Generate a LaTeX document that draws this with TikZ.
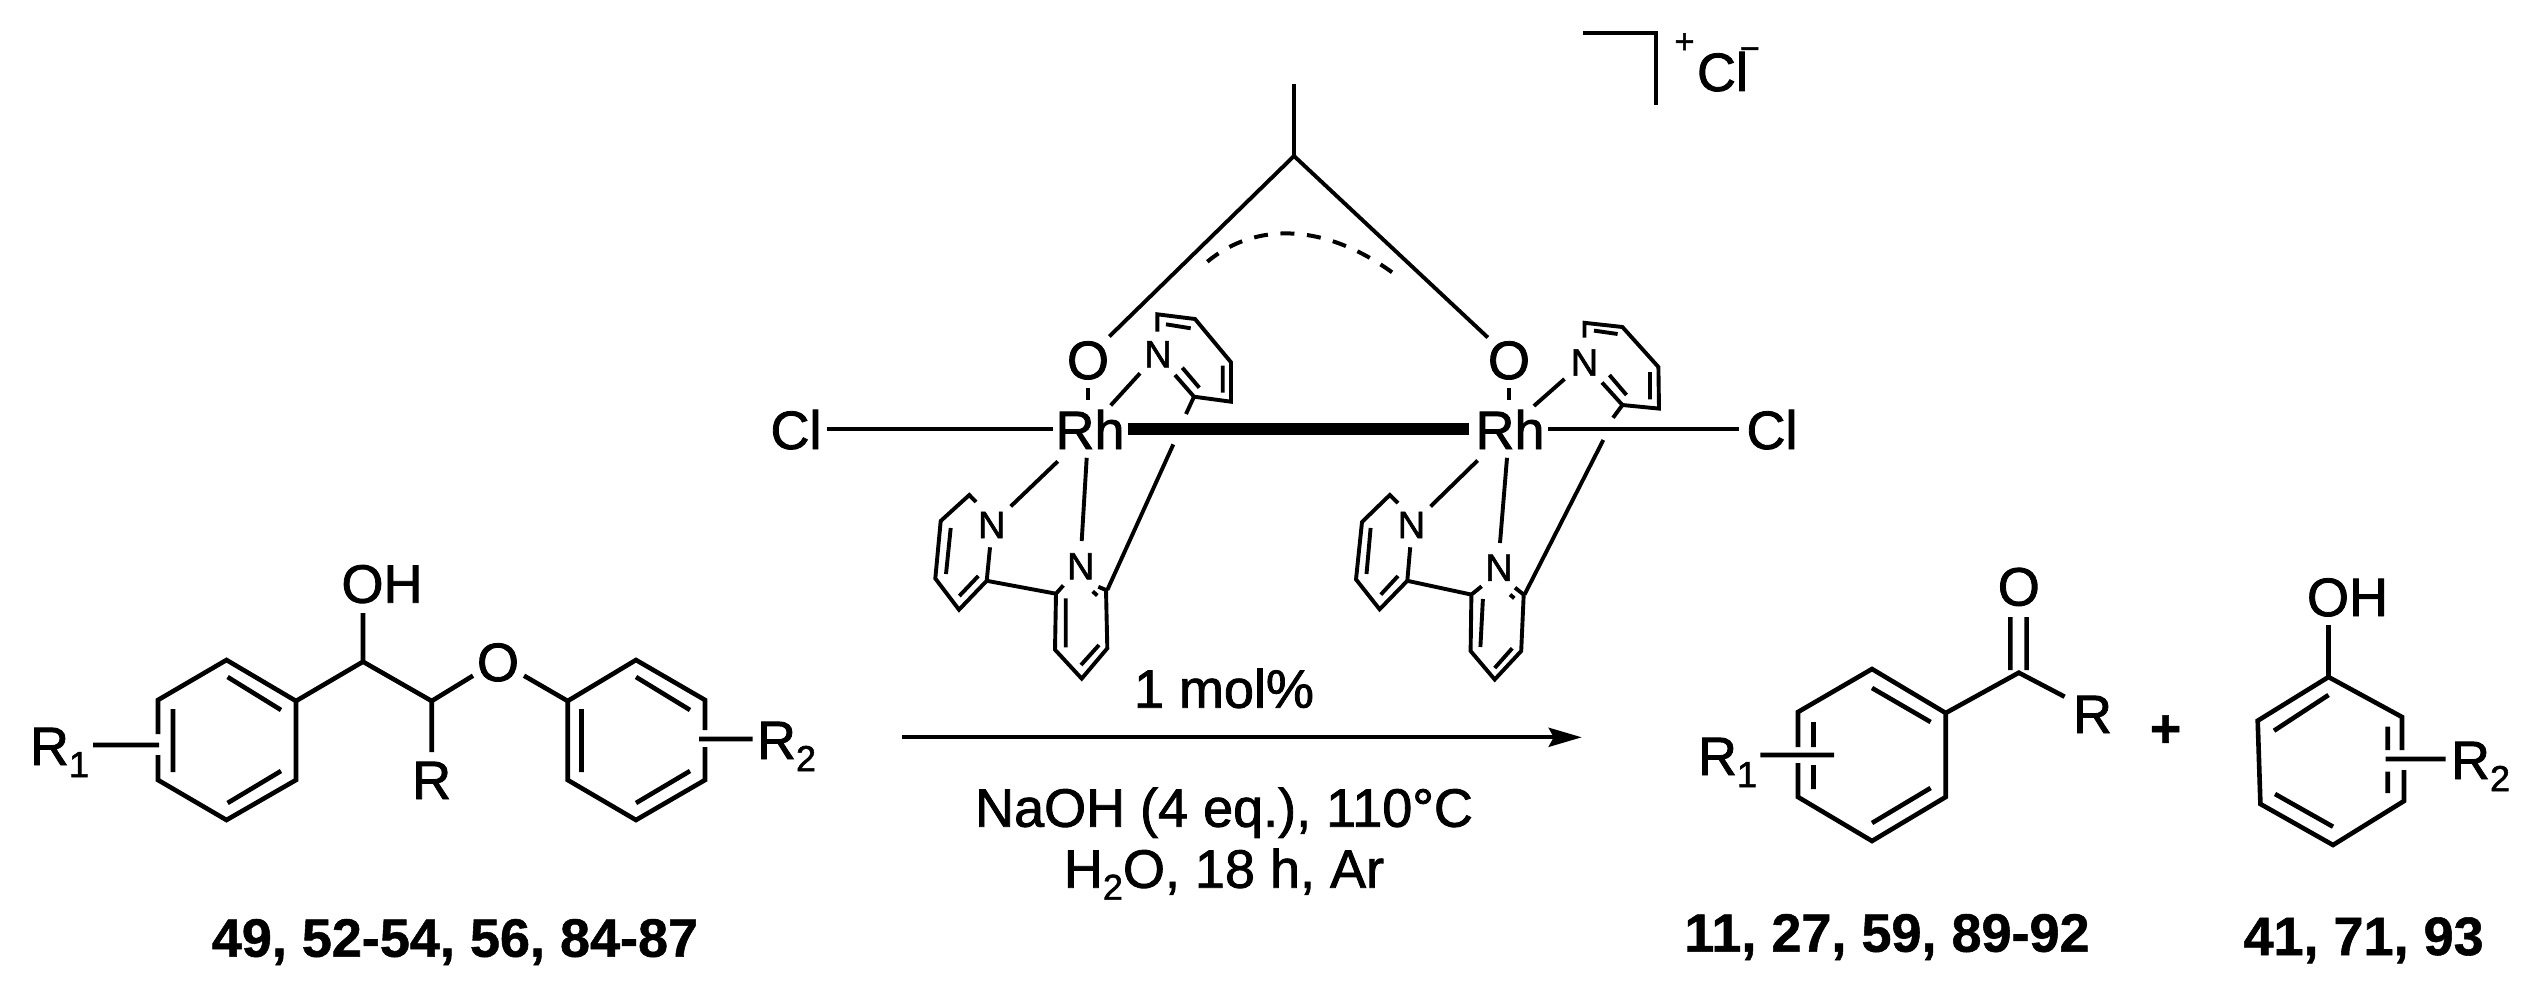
\documentclass[tikz,border=0pt]{standalone}
\usepackage{fontspec}
\setmainfont[FakeBold=1.5,BoldFeatures={FakeBold=1}]{Liberation Sans}
\usetikzlibrary{arrows.meta}
\newcommand\subs[1]{\raisebox{-12pt}{\fontsize{36}{40}\selectfont #1}}
\tikzset{
  bond/.style={line width=4.6pt,line join=miter,line cap=butt},
  catbond/.style={line width=3.9pt,line join=miter,line cap=butt},
  metalbond/.style={line width=11.5pt,line cap=butt},
  dashedarc/.style={line width=4pt,dash pattern=on 14pt off 12.6pt},
  rxnarrow/.style={line width=4pt,-{Stealth[length=33pt,width=19pt,inset=5pt]}},
  txt/.style={inner sep=0pt,outer sep=0pt,anchor=base,font=\fontsize{54}{60}\selectfont},
  txtw/.style={txt,anchor=base west},
  atom/.style={inner sep=0pt,outer sep=0pt,anchor=base,font=\fontsize{38}{42}\selectfont},
  lab/.style={inner sep=0pt,outer sep=0pt,anchor=base,font=\bfseries\fontsize{54}{60}\selectfont},
  sup/.style={inner sep=0pt,outer sep=0pt,anchor=base,font=\fontsize{34}{38}\selectfont},
}
\begin{document}
\begin{tikzpicture}[x=1pt,y=-1pt]
\useasboundingbox (0,0) rectangle (2535,982);
% ---- coordinates: substrate
\foreach \n/\x/\y in {La/226.5/660,Lb/296/701,Lc/296/780,Ld/226.5/820,Le/158/780,Lf/158/700,Lg/158/734,Lh/158/755,
 Li/227.6/677,Lj/281/710,Lk/173/709,Ll/173/772,Lm/227.6/803,Ln/281/771,Lo/93/745,Lp/159/745,
 Lq/363/661.7,Lr/363/613,Ls/431.7/701,Lt/431.7/752,Lu/473/675.7,Lv/524/675.7,Lw/567.7/701,
 Mb/636/660,Mc/705/700,Md/705/730,Me/705/747,Mf/705/780,Mg/636/820,Mh/567.7/780,
 Mi/581.5/709,Mj/581.5/772,Mk/636/677,Ml/690/710,Mm/636/803,Mn/690/771,Mo/699/739,Mp/752.6/739,
% ketone
 Ka/1872/669,Kb/1945.7/713,Kc/1945.7/797,Kd/1872/841,Ke/1798/797,Kf/1798/712,Kg/1798/747,Kh/1798/763,
 Ki/1872/688,Kj/1930.6/722,Kk/1872/823,Kl/1930.6/788,Km/1813.5/722,Kn/1813.5/747,Ko/1813.5/765,Kp/1813.5/789,
 Kq/1760.4/755,Kr/1834/755,Ks/2018.8/672.7,Kt/2010.4/617,Ku/2010.4/670,Kv/2026.6/617,Kw/2026.6/670,Kx/2064.6/696.7,
% phenol
 Pa/2328.5/677,Pb/2402/717,Pc/2402/750,Pd/2404/770,Pe/2404/801,Pf/2333/845,Pg/2260.4/804,Ph/2257.7/720.7,
 Pi/2328.5/695,Pj/2274/730.7,Pk/2275/794,Pl/2333/826.7,Pm/2387.7/726.7,Pn/2387.7/750,Po/2387.7/771.7,Pp/2387.7/793,
 Pq/2385.5/759,Pr/2445.7/759,Ps/2328.5/625,
% arrow
 Ws/902/737.3,We/1581.7/737.3,
% bracket
 Ba/1582.9/33,Bb/1656/33,Bc/1656/104.7,
% acetate
 Ca/1294/84,Cb/1294/156,Cc/1487.8/337.5,Cd/1109.3/336.5,Ce/1207.3/261.7,Cf/1395.7/275,
% Rh-ligands common
 Ra/826.7/429,Rb/1052.7/429,Rc/1127.7/429,Rd/1469.4/429,Re/1548/429,Rf/1738.8/429,
 Og/1088/388,Oh/1088/400,Oi/1509/388,Oj/1509/400,
% left catalyst: upper pyridine
 Aa/1157.3/331.7,Ab/1157.3/314.3,Ac/1195/319,Ad/1231/362.3,Ae/1231/401.7,Af/1194/396.7,Ag/1175/375,
 Ah/1166/324.3,Ai/1190.7/328.3,Aj/1222.7/365.7,Ak/1222.7/392.7,Al/1182.3/367.7,Am/1199.3/387.7,An/1186/414,
 Ao/1110.7/405.4,Ap/1140/373.3,Aq/1173.3/444.4,Ar/1107.3/590,
% left catalyst: lower bipyridine
 As/1057.7/461.4,At/1010.7/506.4,Au/976/502,Av/969.3/495,Aw/940.7/521,Ax/935.3/578.5,Ay/959/609.7,Az/986.7/580.8,AA/990/547.3,
 AB/950.7/528,AC/946/574,AD/959.3/596,AE/978.3/576,AF/1056/593.7,AG/1063.3/585.4,AH/1055/649.7,AI/1081.7/678.6,AJ/1107.3/648.3,AK/1106/590,AL/1098.3/586.8,
 AM/1065.7/598.3,AN/1065.7/647.4,AO/1081/665,AP/1099/645,AQ/1092.7/591.4,AR/1097.3/595.5,AS/1086.7/457.8,AT/1081.7/541,
% right catalyst: upper pyridine
 Da/1584.5/337.5,Db/1584.5/322.8,Dc/1622.4/327,Dd/1658.4/367,De/1659/408.6,Df/1622.4/405,Dg/1602/382.5,
 Dh/1594/330.6,Di/1617.6/334,Dj/1650/372,Dk/1650/399.4,Dl/1609.4/375,Dm/1626.5/395,Dn/1613/417.8,
 Do/1533.9/406,Dp/1564.5/379,Dq/1603.3/440,Dr/1524.5/594.6,
% right catalyst: lower bipyridine
 Ds/1477.6/460.5,Dt/1430.6/506.4,Du/1398/503,Dv/1389.8/495,Dw/1362/522,Dx/1356/579.4,Dy/1379.6/609.3,Dz/1407.3/580.8,DA/1410.2/547.3,
 DB/1370.6/528,DC/1366.5/574,DD/1380.8/594.6,DE/1398/576,DF/1471.4/594.6,DG/1481.6/586.3,DH/1470.6/651,DI/1494.7/679.5,DJ/1521.2/651,DK/1523.7/594.6,DL/1515/587.7,
 DM/1482.9/599,DN/1480.4/647,DO/1494.7/668,DP/1512.2/648.3,DQ/1510/594.6,DR/1514.3/598.3,DS/1507/457.8,DT/1500/543}
 \coordinate (\n) at (\x,\y);
% ---- substrate
\draw[bond] (Lg)--(Lf)--(La)--(Lb)--(Lc)--(Ld)--(Le)--(Lh);
\draw[bond] (Li)--(Lj) (Lk)--(Ll) (Lm)--(Ln) (Lo)--(Lp);
\draw[bond] (Lb)--(Lq)--(Ls)--(Lu) (Lq)--(Lr) (Ls)--(Lt) (Lv)--(Lw);
\draw[bond] (Md)--(Mc)--(Mb)--(Lw)--(Mh)--(Mg)--(Mf)--(Me);
\draw[bond] (Mi)--(Mj) (Mk)--(Ml) (Mm)--(Mn) (Mo)--(Mp);
\node[txt] (oh1) at (382,602.7) {OH};
\node[txt] (ether) at (498,681) {O};
\node[txt] (rmid) at (431.7,799) {R};
\node[txtw] (r1a) at (30,765) {R\subs{1}};
\node[txtw] (r2a) at (757,759) {R\subs{2}};
\node[lab] (cmpa) at (455,956.7) {49, 52-54, 56, 84-87};
% ---- arrow and conditions
\draw[rxnarrow] (Ws)--(We);
\node[txt] (mol) at (1224,707.7) {1 mol\%};
\node[txt] (naoh) at (1224,826.7) {NaOH (4 eq.), 110°C};
\node[txt] (water) at (1224,887.7) {H\subs{2}O, 18 h, Ar};
% ---- ketone
\draw[bond] (Kg)--(Kf)--(Ka)--(Kb)--(Kc)--(Kd)--(Ke)--(Kh);
\draw[bond] (Ki)--(Kj) (Kk)--(Kl) (Km)--(Kn) (Ko)--(Kp) (Kq)--(Kr);
\draw[bond] (Kb)--(Ks)--(Kx) (Kt)--(Ku) (Kv)--(Kw);
\node[txt] (keto) at (2018.8,605.5) {O};
\node[txt] (rket) at (2092.5,733) {R};
\node[txtw] (r1b) at (1698,775) {R\subs{1}};
\node[lab] (cmpb) at (1887,951.7) {11, 27, 59, 89-92};
\node[lab] (plus) at (2165.6,747) {+};
% ---- phenol
\draw[bond] (Pc)--(Pb)--(Pa)--(Ph)--(Pg)--(Pf)--(Pe)--(Pd);
\draw[bond] (Pi)--(Pj) (Pk)--(Pl) (Pm)--(Pn) (Po)--(Pp) (Pq)--(Pr) (Pa)--(Ps);
\node[txt] (oh2) at (2347.5,616) {OH};
\node[txtw] (r2b) at (2451,779) {R\subs{2}};
\node[lab] (cmpc) at (2363.6,955) {41, 71, 93};
% ---- catalyst frame
\draw[catbond] (Ca)--(Cb)--(Cc) (Cb)--(Cd);
\draw[dashedarc] (Ce) .. controls (1255,222) and (1325,222) .. (Cf);
\draw[catbond] (Ba)--(Bb)--(Bc);
\node[sup] (charge) at (1684.5,53) {+};
\node[txtw] (clion) at (1697,91) {Cl\kern-8pt\raisebox{31pt}{\fontsize{34}{38}\selectfont −}};
\draw[catbond] (Ra)--(Rb) (Re)--(Rf);
\draw[metalbond] (Rc)--(Rd);
\draw[catbond] (Og)--(Oh) (Oi)--(Oj);
\node[txt] (cla) at (796,449) {Cl};
\node[txt] (rha) at (1090,449) {Rh};
\node[txt] (rhb) at (1510,449) {Rh};
\node[txt] (clb) at (1772,449) {Cl};
\node[txt] (oa) at (1088,379) {O};
\node[txt] (ob) at (1509,379) {O};
% ---- left catalyst ligands
\draw[catbond] (Aa)--(Ab)--(Ac)--(Ad)--(Ae)--(Af)--(Ag);
\draw[catbond] (Ah)--(Ai) (Aj)--(Ak) (Al)--(Am) (Af)--(An) (Ao)--(Ap) (Aq)--(Ar);
\draw[catbond] (As)--(At) (Au)--(Av)--(Aw)--(Ax)--(Ay)--(Az)--(AA);
\draw[catbond] (AB)--(AC) (AD)--(AE) (Az)--(AF);
\draw[catbond] (AG)--(AF)--(AH)--(AI)--(AJ)--(AK)--(AL);
\draw[catbond] (AM)--(AN) (AO)--(AP) (AQ)--(AR) (AS)--(AT);
\node[atom] (na1) at (1158,367.3) {N};
\node[atom] (na2) at (991.7,538) {N};
\node[atom] (na3) at (1080.7,579.4) {N};
% ---- right catalyst ligands
\draw[catbond] (Da)--(Db)--(Dc)--(Dd)--(De)--(Df)--(Dg);
\draw[catbond] (Dh)--(Di) (Dj)--(Dk) (Dl)--(Dm) (Df)--(Dn) (Do)--(Dp) (Dq)--(Dr);
\draw[catbond] (Ds)--(Dt) (Du)--(Dv)--(Dw)--(Dx)--(Dy)--(Dz)--(DA);
\draw[catbond] (DB)--(DC) (DD)--(DE) (Dz)--(DF);
\draw[catbond] (DG)--(DF)--(DH)--(DI)--(DJ)--(DK)--(DL);
\draw[catbond] (DM)--(DN) (DO)--(DP) (DQ)--(DR) (DS)--(DT);
\node[atom] (nb1) at (1584.5,375.6) {N};
\node[atom] (nb2) at (1411.4,538) {N};
\node[atom] (nb3) at (1499,580.8) {N};
\end{tikzpicture}
\end{document}
